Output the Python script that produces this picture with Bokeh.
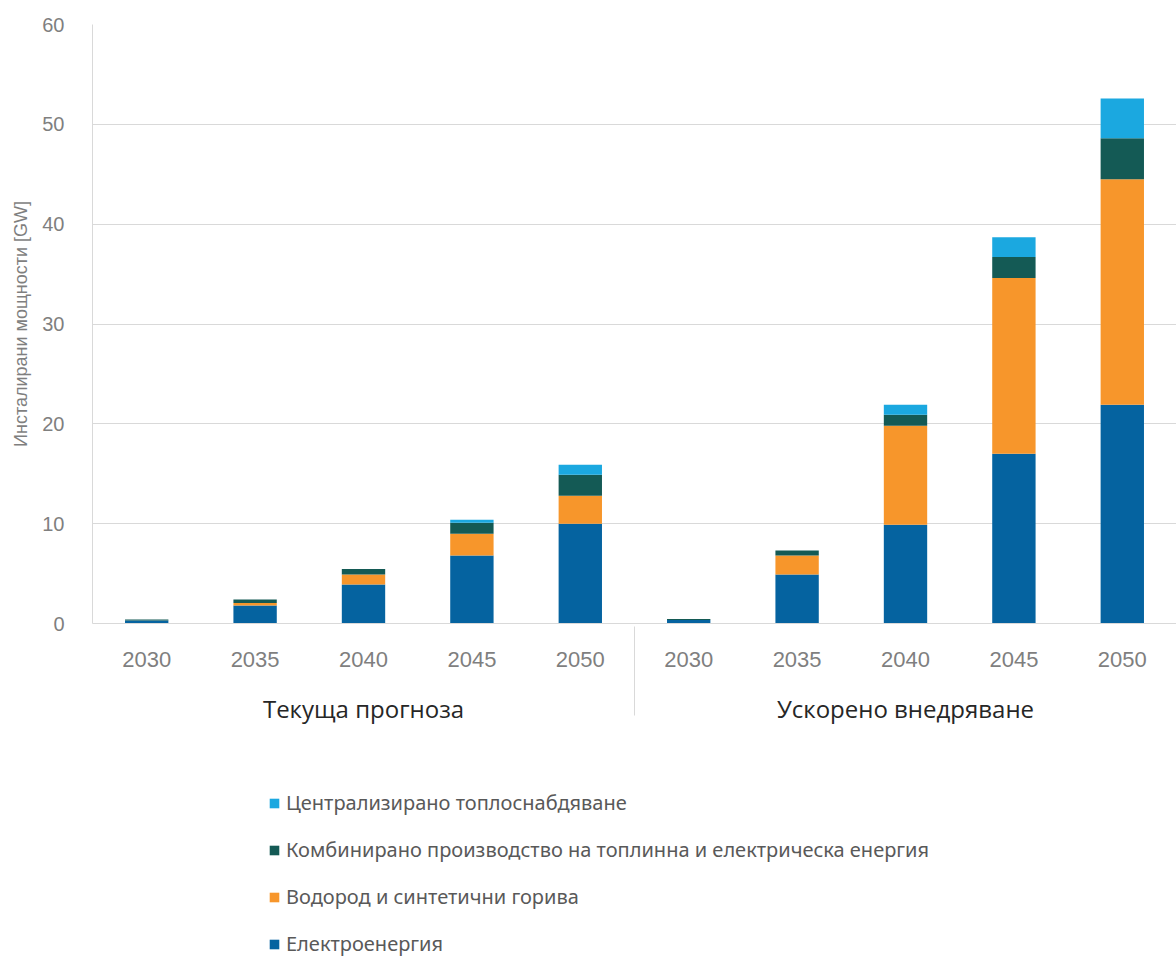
from bokeh.plotting import figure
from bokeh.models import (ColumnDataSource, FactorRange, Range1d, Legend, LegendItem,
                          SingleIntervalTicker)
from bokeh.layouts import column
from bokeh.embed import file_html
from bokeh.resources import INLINE

# ---- data (GW) ----
scenarios = ["Текуща прогноза", "Ускорено внедряване"]
years = ["2030", "2035", "2040", "2045", "2050"]

electricity = [0.3, 1.8, 3.9, 6.8, 10.0, 0.35, 4.9, 9.9, 17.0, 21.9]
hydrogen    = [0.0, 0.25, 1.0, 2.2, 2.8, 0.0, 1.9, 9.9, 17.6, 22.6]
chp         = [0.1, 0.35, 0.55, 1.1, 2.1, 0.1, 0.5, 1.1, 2.1, 4.1]
district    = [0.0, 0.0, 0.0, 0.3, 1.0, 0.0, 0.0, 1.0, 2.0, 4.0]

series_keys = ["electricity", "hydrogen", "chp", "district"]
series_labels = ["Електроенергия", "Водород и синтетични горива",
                 "Комбинирано производство на топлинна и електрическа енергия",
                 "Централизирано топлоснабдяване"]
colors = ["#0563a0", "#f7962b", "#145a55", "#1ba8e0"]

y_title = "Инсталирани мощности [GW]"

factors = [(s, y) for s in scenarios for y in years]
src = ColumnDataSource(dict(x=factors, electricity=electricity, hydrogen=hydrogen,
                            chp=chp, district=district))

MAIN_H = 735
p = figure(width=1176, height=MAIN_H, output_backend="svg", toolbar_location=None,
           x_range=FactorRange(*factors, group_padding=0, range_padding=0),
           y_range=Range1d(0, 60),
           min_border_left=92, min_border_right=0, min_border_top=24,
           min_border_bottom=112)
p.outline_line_color = None
p.background_fill_color = "white"
p.border_fill_color = "white"

p.vbar_stack(series_keys, x="x", width=0.4, color=colors, source=src, line_color=None)

# y axis
p.yaxis.ticker = SingleIntervalTicker(interval=10)
p.yaxis.axis_line_color = "#d9d9d9"
p.yaxis.major_tick_line_color = None
p.yaxis.minor_tick_line_color = None
p.yaxis.major_label_standoff = 22
p.yaxis.major_label_text_font = "Liberation Sans"
p.yaxis.major_label_text_font_size = "20px"
p.yaxis.major_label_text_color = "#7f7f7f"
p.yaxis.axis_label = y_title
p.yaxis.axis_label_text_font = "Liberation Sans"
p.yaxis.axis_label_text_font_style = "normal"
p.yaxis.axis_label_text_font_size = "18px"
p.yaxis.axis_label_text_color = "#7f7f7f"
p.yaxis.axis_label_standoff = 8

# grid
p.xgrid.grid_line_color = None
p.ygrid.grid_line_color = "#d9d9d9"

# x axis
xa = p.xaxis[0]
xa.axis_line_color = "#d9d9d9"
xa.major_tick_line_color = None
xa.minor_tick_line_color = None
xa.major_label_standoff = 22
xa.major_label_text_font = "Liberation Sans"
xa.major_label_text_font_size = "22px"
xa.major_label_text_color = "#7f7f7f"
xa.group_text_font = "Open Sans"
xa.group_text_font_size = "24px"
xa.group_text_font_style = "normal"
xa.group_text_color = "#262626"
xa.separator_line_color = "#d9d9d9"
xa.separator_line_width = 1

# ---- legend panel (below the chart) ----
lp = figure(width=1176, height=957 - MAIN_H, output_backend="svg", toolbar_location=None,
            x_range=FactorRange(*factors, group_padding=0, range_padding=0),
            y_range=Range1d(0, 60), min_border=0,
            x_axis_location=None, y_axis_location=None)
lp.outline_line_color = None
lp.grid.grid_line_color = None
lp.background_fill_color = "white"
lp.border_fill_color = "white"
leg_r = lp.vbar_stack(series_keys, x="x", width=0.4, color=colors, source=src, line_color=None)
for r in leg_r:
    r.visible = False

items = [LegendItem(label=series_labels[i], renderers=[leg_r[i]]) for i in range(3, -1, -1)]
legend = Legend(items=items, orientation="vertical", location=(176, 0),
                border_line_color=None, background_fill_alpha=0,
                inactive_fill_alpha=0,
                label_text_font="Noto Sans", label_text_font_size="20px",
                label_text_color="#595959", glyph_width=12, glyph_height=12,
                label_height=22, spacing=20, padding=0, margin=0,
                label_standoff=6, click_policy="none")
lp.add_layout(legend)

open("out.html", "w").write(file_html(column(p, lp, spacing=0), INLINE))
